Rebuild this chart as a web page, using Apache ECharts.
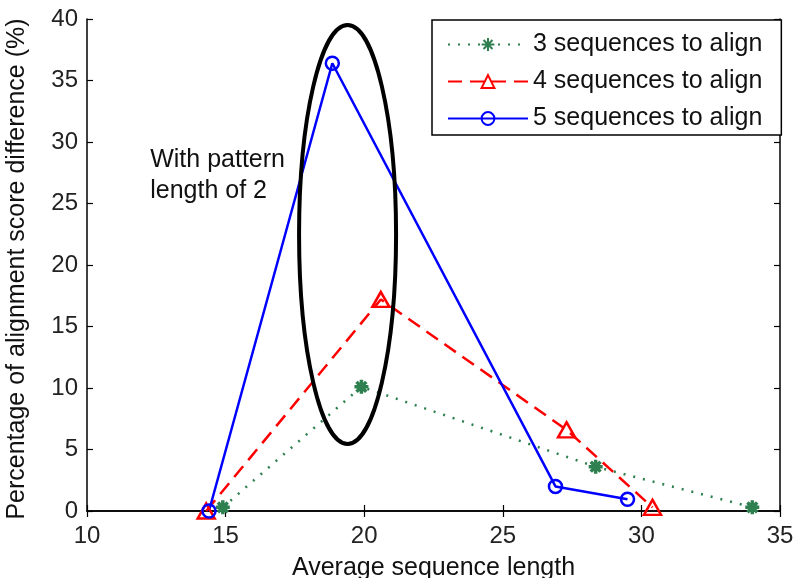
<!DOCTYPE html>
<html><head><meta charset="utf-8">
<script src="https://cdn.jsdelivr.net/npm/echarts@6/dist/echarts.min.js"></script>
<style>html,body{margin:0;padding:0;background:#fff}#c{width:793px;height:578px}</style>
</head><body><div id="c"></div>
<script>
const seriesNames = ['3 sequences to align', '4 sequences to align', '5 sequences to align'];
const seq3 = [[14.9, 0.3], [19.9, 10.1], [28.35, 3.6], [34.0, 0.3]];
const seq4 = [[14.3, 0.0], [20.6, 17.2], [27.3, 6.6], [30.4, 0.3]];
const seq5 = [[14.4, 0.0], [18.85, 36.4], [26.9, 2.0], [29.5, 0.95]];
const xRange = { min: 10, max: 35, interval: 5 };
const yRange = { min: 0, max: 40, interval: 5 };
const xTitle = 'Average sequence length';
const yTitle = 'Percentage of alignment score difference (%)';
const ellipseData = { cx: 19.4, cy: 22.48, rx: 1.75, ry: 17.03 };
const noteText = ['With pattern', 'length of 2'];
const noteAnchor = [12.28, 29.8];

const FONT = 'Liberation Sans, Arial, sans-serif';
const chart = echarts.init(document.getElementById('c'), null, { renderer: 'canvas' });

function axisCommon(extra) {
  return Object.assign({
    type: 'value',
    axisLine: { show: true, lineStyle: { color: '#000', width: 1.5 } },
    axisTick: { show: true, inside: true, length: 6, lineStyle: { color: '#000', width: 1.2 } },
    splitLine: { show: false }
  }, extra);
}

const option = {
  animation: false,
  backgroundColor: '#fff',
  grid: { left: 87, right: 13, top: 19, bottom: 67, containLabel: false, outerBoundsMode: 'none' },
  xAxis: [
    axisCommon({
      min: xRange.min, max: xRange.max, interval: xRange.interval, position: 'bottom',
      name: xTitle, nameLocation: 'middle', nameGap: 45,
      nameTextStyle: { fontSize: 25, fontFamily: FONT, color: '#111' },
      axisLabel: { fontSize: 24, fontFamily: FONT, color: '#222', margin: 13 }
    }),
    axisCommon({
      min: xRange.min, max: xRange.max, interval: xRange.interval, position: 'top',
      axisLabel: { show: false }
    })
  ],
  yAxis: [
    axisCommon({
      min: yRange.min, max: yRange.max, interval: yRange.interval, position: 'left',
      name: yTitle, nameLocation: 'middle', nameGap: 57,
      nameTextStyle: { fontSize: 25, fontFamily: FONT, color: '#111', padding: [0, 8, 0, 0] },
      axisLabel: { fontSize: 24, fontFamily: FONT, color: '#222', margin: 9 }
    }),
    axisCommon({
      min: yRange.min, max: yRange.max, interval: yRange.interval, position: 'right',
      axisLabel: { show: false }
    })
  ],
  legend: {
    orient: 'vertical', left: 432, top: 20,
    padding: [12, 19, 4, 15], itemGap: 12, itemWidth: 80, itemHeight: 16,
    borderColor: '#000', borderWidth: 1.5, backgroundColor: '#fff',
    textStyle: { fontSize: 25, fontFamily: FONT, color: '#111', lineHeight: 25 },
    data: seriesNames
  },
  series: [
    {
      name: seriesNames[0], type: 'line', data: seq3, clip: false,
      symbol: 'path://M0,-10L0,10M-10,0L10,0M-7,-7L7,7M-7,7L7,-7', symbolSize: 14,
      lineStyle: { color: '#2E8050', width: 2.5, type: [2, 8] },
      itemStyle: { color: '#2E8050', borderColor: '#2E8050', borderWidth: 3.5 }
    },
    {
      name: seriesNames[1], type: 'line', data: seq4, clip: false,
      symbol: 'triangle', symbolSize: [17, 15],
      lineStyle: { color: '#FF0000', width: 2.5, type: [14, 8] },
      itemStyle: { color: 'rgba(255,255,255,0)', borderColor: '#FF0000', borderWidth: 2.5 }
    },
    {
      name: seriesNames[2], type: 'line', data: seq5, clip: false,
      symbol: 'circle', symbolSize: 13,
      lineStyle: { color: '#0000FF', width: 2.5, type: 'solid' },
      itemStyle: { color: 'rgba(255,255,255,0)', borderColor: '#0000FF', borderWidth: 2.5 }
    }
  ]
};
chart.setOption(option);

const c = chart.convertToPixel({ gridIndex: 0 }, [ellipseData.cx, ellipseData.cy]);
const ex = chart.convertToPixel({ gridIndex: 0 }, [ellipseData.cx + ellipseData.rx, ellipseData.cy]);
const ey = chart.convertToPixel({ gridIndex: 0 }, [ellipseData.cx, ellipseData.cy + ellipseData.ry]);
const na = chart.convertToPixel({ gridIndex: 0 }, noteAnchor);
chart.setOption({
  graphic: [
    {
      type: 'ellipse', z: 10,
      shape: { cx: c[0], cy: c[1], rx: Math.abs(ex[0] - c[0]), ry: Math.abs(c[1] - ey[1]) },
      style: { fill: 'none', stroke: '#000', lineWidth: 4 }
    },
    {
      type: 'text', z: 10, x: na[0], y: na[1],
      style: { text: noteText.join('\n'), font: '25px ' + FONT, fill: '#111', lineHeight: 31, verticalAlign: 'top', align: 'left' }
    }
  ]
});
</script></body></html>
